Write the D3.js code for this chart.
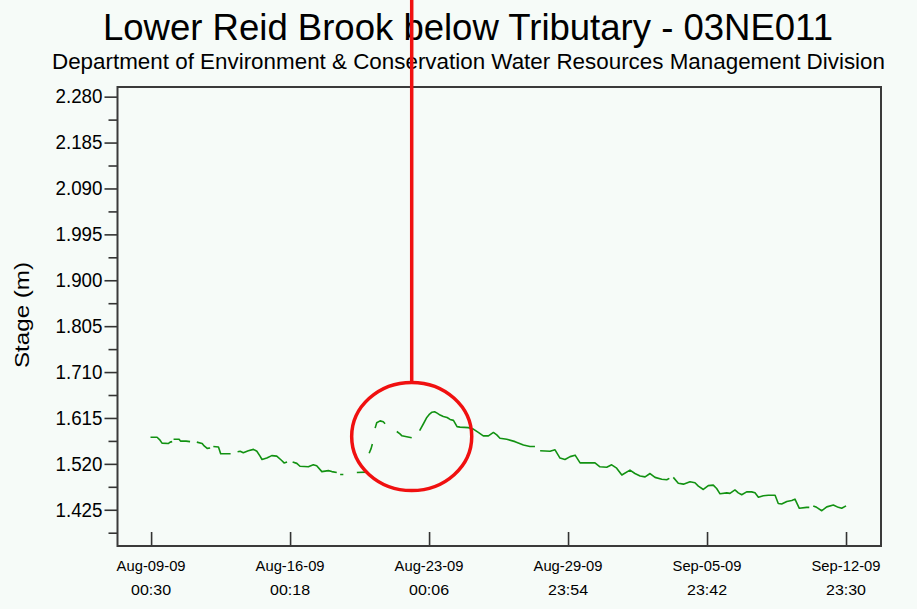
<!DOCTYPE html>
<html>
<head>
<meta charset="utf-8">
<script src="https://cdn.jsdelivr.net/npm/d3@7"></script>
<style>
  html, body { margin: 0; padding: 0; background: #f6fbf8; }
  svg { display: block; }
  text { font-family: "Liberation Sans", Arial, sans-serif; fill: #000; }
</style>
</head>
<body>
<svg id="chart" width="917" height="609"></svg>
<script>
// ---- data ----
const titleText = "Lower Reid Brook below Tributary - 03NE011";
const subtitleText = "Department of Environment & Conservation Water Resources Management Division";
const yTitle = "Stage (m)";

const seriesStart = "2009-08-09T00:30";   // day offsets below are measured from here
// null stage = gap in the record
const days = [
  -0.03, 0.30, 0.45, 0.55, 0.86, 0.96, 1.06, 1.10,
  1.13, 1.41, 1.48, 1.76, 1.96, 2.13,
  2.30, 2.57, 2.67, 2.82, 2.97, 3.05,
  3.13, 3.39, 3.50, 4.00, 4.17,
  4.35, 4.48, 4.64, 4.89, 5.15, 5.32, 5.48, 5.58, 5.82, 6.07, 6.32, 6.57, 6.69, 6.84, 6.98,
  7.12, 7.33, 7.49, 7.91, 8.16, 8.33, 8.59, 8.92, 9.09, 9.34, 9.42,
  9.51, 9.67, 10.00,
  10.35, 10.85, 10.91,
  10.97, 11.07, 11.13, 11.20,
  11.27, 11.35, 11.52, 11.68, 11.77, 12.00,
  12.36, 12.52, 12.62, 12.86, 13.11, 13.30,
  13.51, 13.70, 13.87, 14.01, 14.13, 14.26, 14.39, 14.54, 14.70, 14.89, 15.04, 15.21, 15.39, 15.54,
  15.96, 16.21, 16.46, 16.71, 16.97, 17.22, 17.39, 17.55, 17.89, 18.31, 18.73, 19.06, 19.31, 19.44,
  19.57, 20.07, 20.32, 20.57, 20.82, 21.08, 21.33, 21.58, 21.92, 22.33, 22.58, 22.92, 23.17, 23.42,
  23.68, 24.09, 24.34, 24.60, 24.85, 25.10, 25.35, 25.69, 25.94, 26.07, 26.17,
  26.27, 26.52, 26.78, 27.11, 27.36, 27.53, 27.78, 28.03, 28.28, 28.45, 28.62, 28.96, 29.12, 29.37,
  29.54, 29.71, 29.96, 30.21, 30.38, 30.55, 30.80, 31.05, 31.39, 31.55, 31.72, 31.98, 32.23, 32.39,
  32.61, 32.98, 33.11, 33.21,
  33.31, 33.48, 33.74, 33.99, 34.32, 34.57, 34.74, 34.96
];
const stage = [
  1.575, 1.575, 1.569, 1.563, 1.562, 1.565, 1.566, null,
  1.571, 1.571, 1.567, 1.567, 1.566, null,
  1.565, 1.562, 1.557, 1.552, 1.553, null,
  1.556, 1.555, 1.541, 1.541, null,
  1.545, 1.546, 1.543, 1.547, 1.550, 1.546, 1.536, 1.529, 1.532, 1.537, 1.536, 1.527, 1.522, 1.524, null,
  1.524, 1.521, 1.515, 1.514, 1.518, 1.516, 1.504, 1.506, 1.504, 1.502, null,
  1.498, 1.498, null,
  1.502, 1.503, null,
  1.542, 1.552, 1.561, null,
  1.594, 1.605, 1.609, 1.607, 1.603, null,
  1.587, 1.582, 1.578, 1.576, 1.574, null,
  1.589, 1.603, 1.616, 1.623, 1.627, 1.628, 1.625, 1.621, 1.618, 1.616, 1.612, 1.610, 1.597, 1.596,
  1.595, 1.592, 1.585, 1.578, 1.578, 1.585, 1.580, 1.573, 1.571, 1.566, 1.559, 1.556, 1.556, null,
  1.547, 1.546, 1.549, 1.532, 1.529, 1.535, 1.538, 1.522, 1.522, 1.522, 1.514, 1.513, 1.518, 1.511,
  1.497, 1.507, 1.500, 1.495, 1.493, 1.500, 1.492, 1.488, 1.487, 1.490, null,
  1.492, 1.480, 1.478, 1.483, 1.481, 1.474, 1.467, 1.475, 1.476, 1.469, 1.458, 1.460, 1.459, 1.466,
  1.460, 1.456, 1.462, 1.462, 1.460, 1.451, 1.454, 1.455, 1.455, 1.438, 1.437, 1.442, 1.444, 1.447,
  1.428, 1.430, 1.430, null,
  1.433, 1.430, 1.423, 1.431, 1.435, 1.430, 1.428, 1.433
];

const xDomain = ["2009-08-07T07:56", "2009-09-14T17:44"];
const xTickDates = ["2009-08-09T00:30", "2009-08-16T00:18", "2009-08-23T00:06",
                    "2009-08-29T23:54", "2009-09-05T23:42", "2009-09-12T23:30"];
const yDomain = [1.35, 2.30];
const yMajorTicks = [1.425, 1.520, 1.615, 1.710, 1.805, 1.900, 1.995, 2.090, 2.185, 2.280];
const yMinorTicks = [1.3775, 1.4725, 1.5675, 1.6625, 1.7575, 1.8525, 1.9475, 2.0425, 2.1375, 2.2325];

// annotation (highlighted event), in data units
const highlightCenter = { day: 13.11, stage: 1.5766 };
const highlightRadius = { days: 3.02, stage: 0.1118 };

// ---- drawing ----
const parse = d3.utcParse("%Y-%m-%dT%H:%M");
const t0 = parse(seriesStart);
const toDate = d => new Date(t0.getTime() + d * 864e5);

const svg = d3.select("#chart");
const W = 917, H = 609;
const plot = { left: 117.5, right: 881, top: 87, bottom: 546 };

svg.append("rect").attr("width", W).attr("height", H).attr("fill", "#f6fbf8");

const x = d3.scaleUtc().domain(xDomain.map(parse)).range([plot.left, plot.right]);
const y = d3.scaleLinear().domain(yDomain).range([plot.bottom, plot.top]);

// title
svg.append("text").attr("x", 468).attr("y", 40).attr("text-anchor", "middle")
  .attr("font-size", 37).attr("textLength", 730).attr("lengthAdjust", "spacingAndGlyphs")
  .text(titleText);
svg.append("text").attr("x", 468.5).attr("y", 69).attr("text-anchor", "middle")
  .attr("font-size", 21.5).attr("textLength", 833).attr("lengthAdjust", "spacingAndGlyphs")
  .text(subtitleText);

// y axis title
svg.append("text").attr("transform", "translate(29,315) rotate(-90)")
  .attr("text-anchor", "middle").attr("font-size", 20)
  .attr("textLength", 106).attr("lengthAdjust", "spacingAndGlyphs")
  .text(yTitle);

// y axis (major with labels, minor without)
const yAxisMajor = d3.axisLeft(y).tickValues(yMajorTicks).tickSize(13).tickPadding(2)
  .tickFormat(d3.format(".3f"));
const yAxisMinor = d3.axisLeft(y).tickValues(yMinorTicks).tickSize(9).tickFormat("");

const gyMinor = svg.append("g").attr("transform", `translate(${plot.left},0)`).call(yAxisMinor);
const gyMajor = svg.append("g").attr("transform", `translate(${plot.left},0)`).call(yAxisMajor);
[gyMinor, gyMajor].forEach(g => {
  g.select(".domain").remove();
  g.selectAll(".tick line").attr("stroke", "#333").attr("stroke-width", 1.6);
});
gyMajor.selectAll(".tick text").attr("font-size", 19.5)
  .attr("textLength", 47).attr("lengthAdjust", "spacingAndGlyphs")
  .attr("font-family", "'Liberation Sans', Arial, sans-serif").attr("fill", "#000");

// x axis: ticks pointing up inside the frame, two-line labels below
const fmtDate = d3.utcFormat("%b-%d-%y");
const fmtTime = d3.utcFormat("%H:%M");
const xAxis = d3.axisTop(x).tickValues(xTickDates.map(parse)).tickSize(14).tickFormat("");
const gx = svg.append("g").attr("transform", `translate(0,${plot.bottom})`).call(xAxis);
gx.select(".domain").remove();
gx.selectAll(".tick line").attr("stroke", "#333").attr("stroke-width", 1.6);

const xl = svg.append("g").selectAll("g").data(xTickDates.map(parse)).join("g")
  .attr("transform", d => `translate(${x(d)},0)`);
xl.append("text").attr("y", 571).attr("text-anchor", "middle").attr("font-size", 15)
  .attr("textLength", 69).attr("lengthAdjust", "spacingAndGlyphs")
  .text(d => fmtDate(d));
xl.append("text").attr("y", 595).attr("text-anchor", "middle").attr("font-size", 15)
  .attr("textLength", 40).attr("lengthAdjust", "spacingAndGlyphs")
  .text(d => fmtTime(d));

// frame
svg.append("rect")
  .attr("x", plot.left).attr("y", plot.top)
  .attr("width", plot.right - plot.left).attr("height", plot.bottom - plot.top)
  .attr("fill", "none").attr("stroke", "#3a3a3a").attr("stroke-width", 2);

// data line
const pts = days.map((d, i) => ({ t: toDate(d), v: stage[i] }));
const line = d3.line().defined(d => d.v != null)
  .x(d => x(d.t)).y(d => y(d.v));
svg.append("path").datum(pts)
  .attr("fill", "none").attr("stroke", "#129212").attr("stroke-width", 1.6)
  .attr("stroke-linejoin", "round")
  .attr("d", line);

// red highlight annotation
const cx = x(toDate(highlightCenter.day));
const cy = y(highlightCenter.stage);
const rx = x(toDate(highlightCenter.day + highlightRadius.days)) - cx;
const ry = cy - y(highlightCenter.stage + highlightRadius.stage);
svg.append("line").attr("x1", cx).attr("x2", cx).attr("y1", 0).attr("y2", cy - ry)
  .attr("stroke", "#f01010").attr("stroke-width", 3.5);
svg.append("ellipse").attr("cx", cx).attr("cy", cy).attr("rx", rx).attr("ry", ry)
  .attr("fill", "none").attr("stroke", "#f01010").attr("stroke-width", 3.5);
</script>
</body>
</html>
